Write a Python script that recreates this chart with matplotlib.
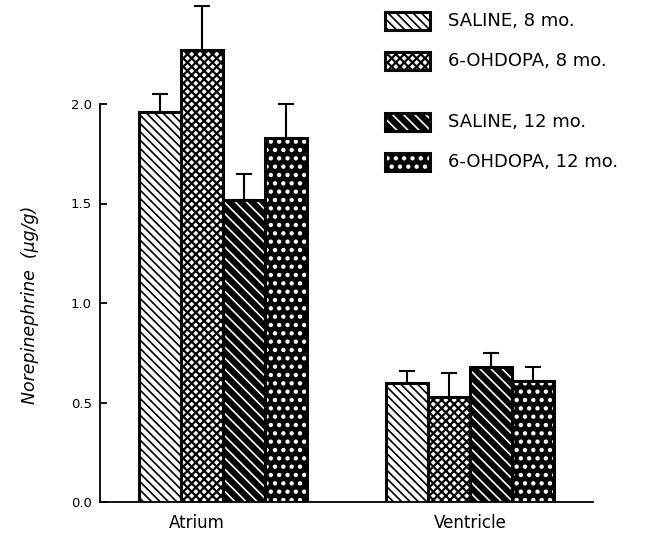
import numpy as np
import matplotlib
matplotlib.use("Agg")
import matplotlib.pyplot as plt
from matplotlib.patches import Rectangle

plt.rcParams['font.family'] = ['DejaVu Sans']

# data (ug/g), upper error only
groups = ["Atrium", "Ventricle"]
series = ["SALINE, 8 mo.", "6-OHDOPA, 8 mo.", "SALINE, 12 mo.", "6-OHDOPA, 12 mo."]
means = {
    "SALINE, 8 mo.": [1.96, 0.60],
    "6-OHDOPA, 8 mo.": [2.27, 0.53],
    "SALINE, 12 mo.": [1.52, 0.68],
    "6-OHDOPA, 12 mo.": [1.83, 0.61],
}
errs = {
    "SALINE, 8 mo.": [0.09, 0.06],
    "6-OHDOPA, 8 mo.": [0.22, 0.12],
    "SALINE, 12 mo.": [0.13, 0.07],
    "6-OHDOPA, 12 mo.": [0.17, 0.07],
}
yticks = [0.0, 0.5, 1.0, 1.5, 2.0]

# face colour, hatch colour, hatch, hatch linewidth
styles = {
    "SALINE, 8 mo.": ("white", "black", "\\" * 4, 1.2),
    "6-OHDOPA, 8 mo.": ("white", "black", "xxxx", 1.6),
    "SALINE, 12 mo.": ("black", "white", "\\" * 3, 1.2),
    "6-OHDOPA, 12 mo.": ("black", "white", "..", 1.9),
}

W, H = 648, 536
fig = plt.figure(figsize=(W / 100, H / 100), dpi=100)
ax = fig.add_axes([100 / W, 34 / H, 493 / W, 497.5 / H])

group_x = np.arange(len(groups)) * 5.88
width = 1.0
for i, s in enumerate(series):
    x = group_x + (i - 1.5) * width
    fc, hc, h, hlw = styles[s]
    with plt.rc_context({"hatch.linewidth": hlw}):
        ax.bar(x, means[s], width=width, facecolor=fc, edgecolor=hc, hatch=h,
               linewidth=0, zorder=2)
    ax.bar(x, means[s], width=width, fill=False, edgecolor="black",
           linewidth=2.2, zorder=3)
    ax.errorbar(x, means[s], yerr=[np.zeros(len(groups)), errs[s]], fmt="none",
                ecolor="black", elinewidth=1.5, capsize=5.5, capthick=1.5, zorder=4)

ax.set_xlim(group_x[0] - 2.93, group_x[-1] + 2.93)
ax.set_ylim(0, 2.5)

for sp in ["top", "right"]:
    ax.spines[sp].set_visible(False)
ax.spines["left"].set_bounds(0, 2.0)
ax.spines["left"].set_linewidth(1.3)
ax.spines["bottom"].set_linewidth(1.3)

ax.set_yticks(yticks)
ax.set_yticklabels([f"{v:.1f}" for v in yticks])
ax.tick_params(axis="y", direction="in", length=5, width=1.3, pad=6, labelsize=9.5)

# group labels sit a little left of the atrium group centre in the original
ax.set_xticks([group_x[0] - 0.62, group_x[1]])
ax.set_xticklabels(groups)
ax.tick_params(axis="x", length=0, pad=9, labelsize=12)

fig.text(30 / W, 1 - 305 / H, "Norepinephrine  (\u00b5g/g)", rotation=90,
         style="italic", fontsize=12.5, ha="center", va="center")

# legend drawn by hand (gap between the 8 mo. and 12 mo. pairs)
row_y = [21, 61, 122, 162]
for s, yc in zip(series, row_y):
    fc, hc, h, hlw = styles[s]
    with plt.rc_context({"hatch.linewidth": hlw}):
        fig.add_artist(Rectangle((385 / W, 1 - (yc + 9) / H), 45 / W, 18 / H,
                                 transform=fig.transFigure, facecolor=fc,
                                 edgecolor=hc, hatch=h, linewidth=0))
    fig.add_artist(Rectangle((385 / W, 1 - (yc + 9) / H), 45 / W, 18 / H,
                             transform=fig.transFigure, fill=False,
                             edgecolor="black", linewidth=2.2))
    fig.text(448 / W, 1 - yc / H, s, fontsize=13, va="center", ha="left")

fig.savefig("out.png", dpi=100)
